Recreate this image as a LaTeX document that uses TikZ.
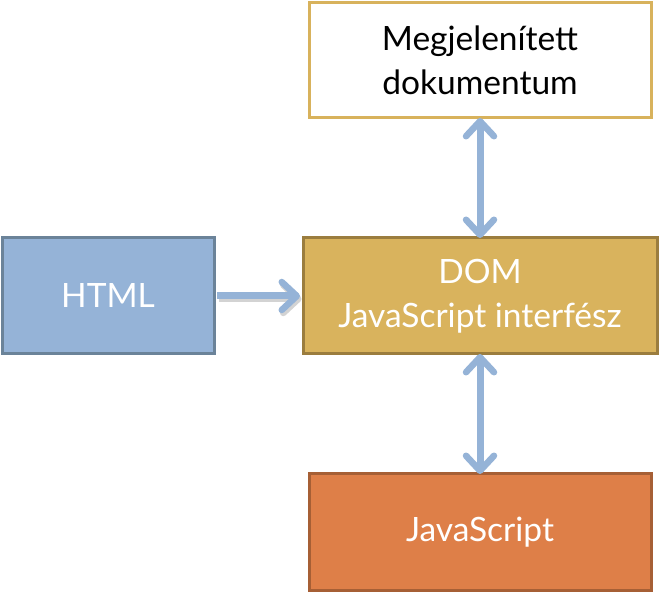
\documentclass[tikz,border=0pt]{standalone}
\usepackage{fontspec}
\setmainfont{Lato}
\usetikzlibrary{arrows.meta}
\definecolor{arrowblue}{HTML}{95B3D7}
\definecolor{htmlfill}{HTML}{95B3D7}
\definecolor{htmlline}{HTML}{6B8399}
\definecolor{domfill}{HTML}{D9B35D}
\definecolor{domline}{HTML}{9B7D3E}
\definecolor{docline}{HTML}{D8B25C}
\definecolor{jsfill}{HTML}{DE7F48}
\definecolor{jsline}{HTML}{A65F35}
\begin{document}
\begin{tikzpicture}[x=1pt,y=-1pt,
	box/.style={rectangle,draw,line width=3pt,align=center,inner sep=0pt,
		font=\fontsize{33.5}{44}\selectfont},
	arr/.style={line width=7pt,arrowblue,
		arrows={-Straight Barb[round,length=15pt,width=28pt,line width=6.5pt]}},
	darr/.style={arr,arrows={Straight Barb[round,length=15pt,width=28pt,line width=6.5pt]-Straight Barb[round,length=15pt,width=28pt,line width=6.5pt]}}
]
	\useasboundingbox (0,0) rectangle (659,593);

	\node[box,draw=docline,fill=white,minimum width=342pt,minimum height=115pt]
		at (480,60.5) (doc) {Megjelenített\\dokumentum};
	\node[box,draw=htmlline,fill=htmlfill,text=white,minimum width=212pt,minimum height=116pt]
		at (108,296) (html) {HTML};
	\node[box,draw=domline,fill=domfill,text=white,minimum width=354pt,minimum height=116pt]
		at (480,296) (dom) {DOM\\JavaScript interfész};
	\node[box,draw=jsline,fill=jsfill,text=white,minimum width=342pt,minimum height=116pt]
		at (480,532) (js) {JavaScript};

	\draw[arr,black!50,opacity=0.35,transform canvas={xshift=1.5pt,yshift=-3pt}]
		([xshift=1.5pt]html.east) -- ([xshift=-1.5pt]dom.west);
	\draw[arr] ([xshift=1.5pt]html.east) -- ([xshift=-1.5pt]dom.west);
	\draw[darr] ([yshift=1.5pt]doc.south) -- ([yshift=-1.5pt]dom.north);
	\draw[darr] ([yshift=1.5pt]dom.south) -- ([yshift=-1.5pt]js.north);

\end{tikzpicture}
\end{document}
